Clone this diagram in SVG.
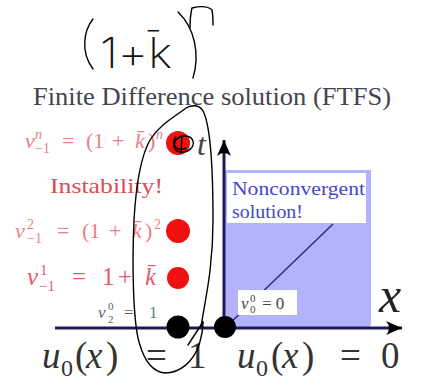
<svg xmlns="http://www.w3.org/2000/svg" width="426" height="392" viewBox="0 0 426 392">
<style>
.serif{font-family:"Liberation Serif","DejaVu Serif",serif}
.it{font-style:italic}
.faded{fill:#ec7d88}
.red{fill:#e04a56}
.ink{fill:none;stroke:#000;stroke-width:1.4;stroke-linecap:round;stroke-linejoin:round}
.hand{font-family:Inter,"Open Sans","DejaVu Sans",sans-serif;font-weight:200;fill:#111}
.axis{stroke:#1c1c55;stroke-width:3;fill:none}
.rdot{fill:#f01010}
.bdot{fill:#000}
</style>
<defs>
<marker id="arr" viewBox="-16 -8 18 16" refX="0" refY="0" markerWidth="18" markerHeight="16" markerUnits="userSpaceOnUse" orient="auto">
<path d="M0,0 L-16,-7 Q-10,0 -16,7 Z" fill="#000"/>
</marker>
</defs>
<rect width="426" height="392" fill="#fff"/>

<g id="title">
<text class="serif" x="33" y="105" font-size="25" textLength="358" lengthAdjust="spacingAndGlyphs" fill="#44444f">Finite Difference solution (FTFS)</text>
</g>

<g id="region">
<path d="M224,170 H371 V323 Q371,328 366,328 H224 Z" fill="#b3b3fb"/>
<rect x="227" y="173" width="139" height="50" fill="#fff"/>
<text class="serif" x="232" y="195" font-size="19" textLength="133" lengthAdjust="spacingAndGlyphs" fill="#4646cc">Nonconvergent</text>
<text class="serif" x="232" y="218" font-size="19" textLength="71" lengthAdjust="spacingAndGlyphs" fill="#4646cc">solution!</text>
</g>

<g id="connectors">
<line x1="333" y1="224" x2="226" y2="327" stroke="#2a2a80" stroke-width="1.5"/>
<line class="axis" x1="224" y1="328" x2="224" y2="140" marker-end="url(#arr)"/>
<line class="axis" x1="55" y1="328" x2="402" y2="328" marker-end="url(#arr)"/>
</g>

<g id="label-v00">
<rect x="238" y="290" width="59" height="25" fill="#fff"/>
<text class="serif" font-size="17" fill="#444"><tspan class="it" x="241" y="309">v</tspan><tspan x="250" y="302" font-size="11">0</tspan><tspan x="250" y="313" font-size="11">0</tspan><tspan x="262" y="309">= 0</tspan></text>
</g>

<g id="axis-labels">
<text class="serif it" x="379" y="312" font-size="50" fill="#222">x</text>
<text class="serif it" x="197" y="155" font-size="32" fill="#444">t</text>
</g>

<g id="label-vn">
<text class="serif faded" font-size="22"><tspan class="it" x="25" y="148">v</tspan><tspan class="it" x="35" y="139" font-size="14">n</tspan><tspan x="35" y="153" font-size="14">−1</tspan><tspan x="62" y="148">=</tspan><tspan x="86" y="148">(1</tspan><tspan x="112" y="148">+</tspan><tspan class="it" x="135" y="148">k̄</tspan><tspan x="148" y="148">)</tspan><tspan class="it" x="156" y="139" font-size="14">n</tspan></text>
</g>

<g id="label-instability">
<text class="serif red" x="50" y="193" font-size="22" textLength="113" lengthAdjust="spacingAndGlyphs">Instability!</text>
</g>

<g id="label-v2">
<text class="serif faded" font-size="22"><tspan class="it" x="15" y="238">v</tspan><tspan x="27" y="229" font-size="14">2</tspan><tspan x="27" y="243" font-size="14">−1</tspan><tspan x="57" y="238">=</tspan><tspan x="82" y="238">(1</tspan><tspan x="109" y="238">+</tspan><tspan class="it" x="132" y="238">k̄</tspan><tspan x="145" y="238">)</tspan><tspan x="154" y="229" font-size="14">2</tspan></text>
</g>

<g id="label-v1">
<text class="serif" font-size="25" fill="#e85a66"><tspan class="it" x="27" y="285">v</tspan><tspan x="40" y="275" font-size="15">1</tspan><tspan x="39" y="291" font-size="15">−1</tspan><tspan x="72" y="285">=</tspan><tspan x="102" y="285">1</tspan><tspan x="118" y="285">+</tspan><tspan class="it" x="145" y="285">k̄</tspan></text>
</g>

<g id="label-v20">
<text class="serif" font-size="17" fill="#5a6068"><tspan class="it" x="98" y="318">v</tspan><tspan x="108" y="310" font-size="11">0</tspan><tspan x="108" y="323" font-size="11">2</tspan><tspan x="124" y="318">=</tspan><tspan x="149" y="318" fill="#4e8a80">1</tspan></text>
</g>

<g id="label-u1">
<text class="serif" font-size="37" fill="#333"><tspan class="it" x="42" y="368">u</tspan><tspan x="61" y="376" font-size="24">0</tspan><tspan x="75" y="368">(</tspan><tspan class="it" x="86" y="368">x</tspan><tspan x="106" y="368">)</tspan><tspan x="146" y="368">=</tspan><tspan x="188" y="368">1</tspan></text>
</g>

<g id="label-u0">
<text class="serif" font-size="37" fill="#333"><tspan class="it" x="237" y="368">u</tspan><tspan x="256" y="376" font-size="24">0</tspan><tspan x="271" y="368">(</tspan><tspan class="it" x="282" y="368">x</tspan><tspan x="302" y="368">)</tspan><tspan x="340" y="368">=</tspan><tspan x="381" y="368">0</tspan></text>
</g>

<g id="dot-n"><circle class="rdot" cx="178" cy="143" r="12"/></g>
<g id="dot-2"><circle class="rdot" cx="178" cy="231" r="12"/></g>
<g id="dot-1"><circle class="rdot" cx="178" cy="278" r="11"/></g>
<g id="dot-v20"><circle class="bdot" cx="178" cy="327" r="11.5"/></g>
<g id="dot-v00"><circle class="bdot" cx="225" cy="327" r="11"/></g>

<g id="ink">
<path class="ink" d="M201,327 C205,300 213,270 213,220 C213,170 211,130 204,113 C201,105 193,104 186,108 C176,116 160,124 150,140 C141,156 136,185 134,220 C132,265 133,320 139,342 C144,360 153,372 165,373 C180,373 193,362 199,345 C202,335 203,328 203,322"/>
<path class="ink" d="M203,322 L188,345"/>
<path class="ink" d="M176,137 C172,142 173,151 180,152 C188,153 195,147 193,141 C191,135 181,134 176,140 C172,146 178,152 186,148 M182,136 L181,153"/>
<path class="ink" d="M93,19 C84,30 80,52 93,69"/>
<path class="ink" d="M178,12 C195,28 200,55 193,78"/>
<path class="ink" d="M190,28 C190,20 191,12 192,8 C200,6 208,6 212,10 C213,15 213,20 213,25"/>
<text class="hand" x="100" y="68" font-size="42" textLength="72" lengthAdjust="spacingAndGlyphs">1+k̄</text>
</g>
</svg>
